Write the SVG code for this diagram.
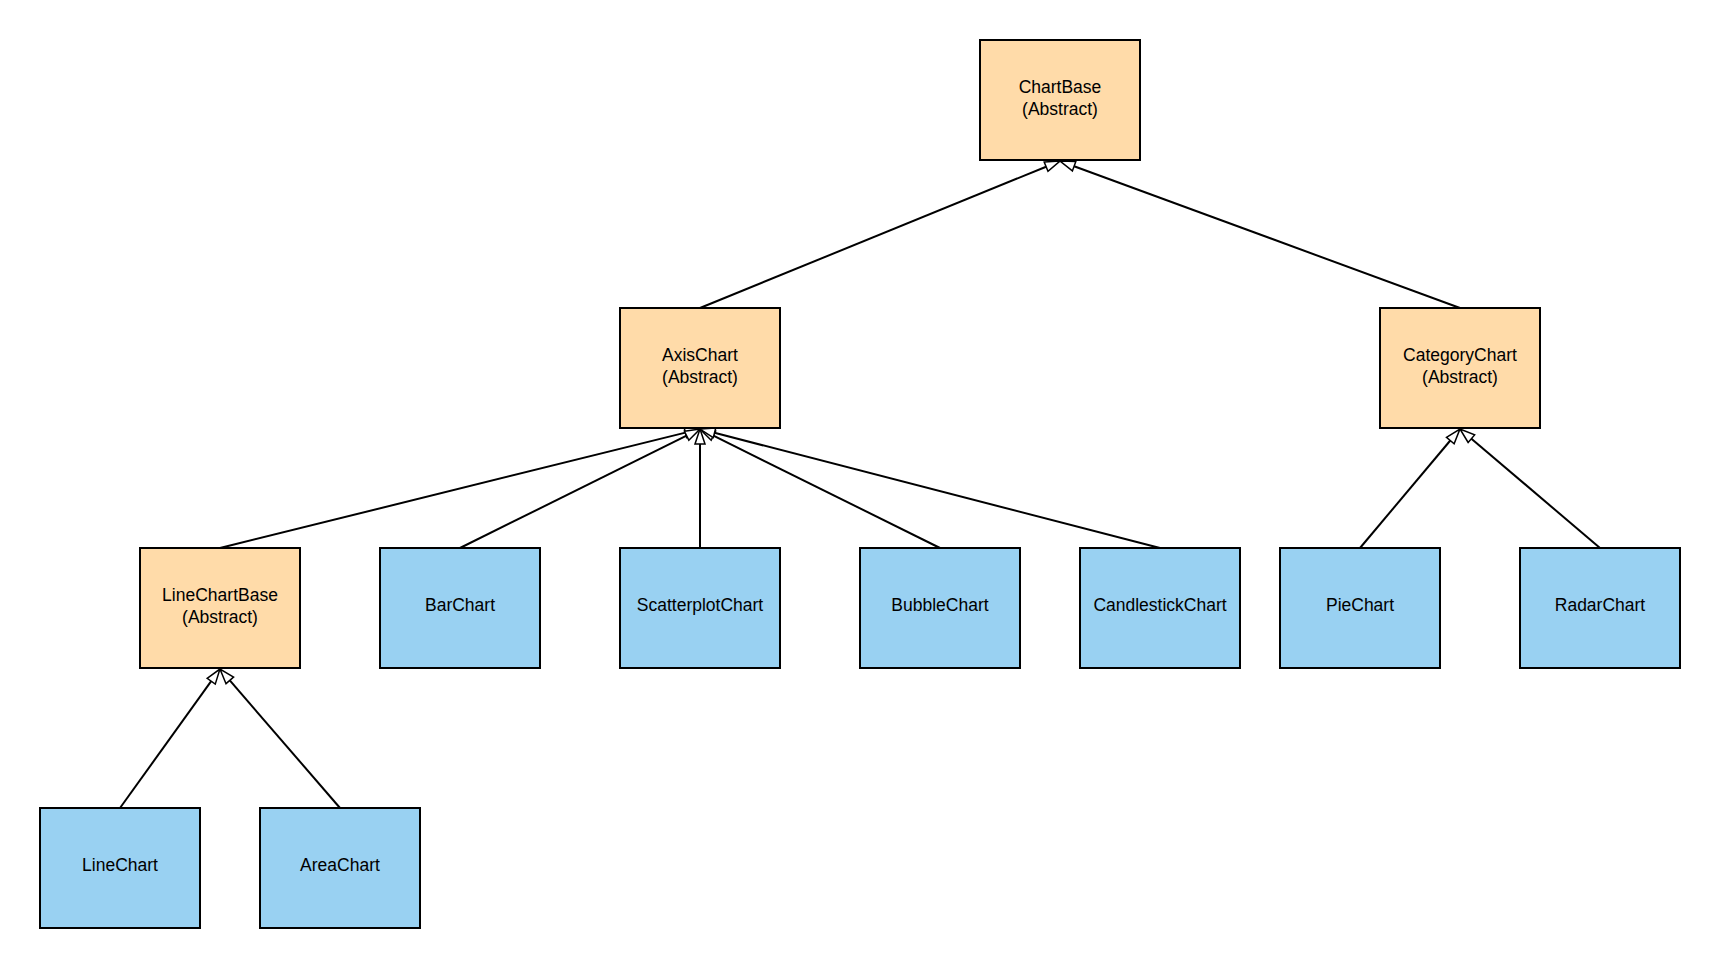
<svg xmlns="http://www.w3.org/2000/svg" width="1720" height="968" viewBox="0 0 1720 968">
<style>
.abs{fill:#ffdba9;stroke:#000;stroke-width:2}
.con{fill:#99d1f2;stroke:#000;stroke-width:2}
text{font-family:"Liberation Sans",Arial,sans-serif;font-size:17.5px;fill:#000;text-anchor:middle}
.edge{stroke:#000;stroke-width:2;fill:none;marker-end:url(#tri)}
</style>
<defs>
<marker id="tri" markerUnits="userSpaceOnUse" viewBox="-2 -7 19 14" markerWidth="19" markerHeight="14" refX="0" refY="0" orient="auto">
<path d="M0,-5 L15,0 L0,5 Z" fill="#fff" stroke="#000" stroke-width="1.5"/>
</marker>
</defs>
<rect width="1720" height="968" fill="#fff"/>
<g id="connectors">
<line class="edge" x1="700" y1="308" x2="1046.1" y2="166.7"/>
<line class="edge" x1="1460" y1="308" x2="1074.1" y2="166.2"/>
<line class="edge" x1="220" y1="548" x2="685.4" y2="432.6"/>
<line class="edge" x1="460" y1="548" x2="686.6" y2="435.7"/>
<line class="edge" x1="700" y1="548" x2="700" y2="444"/>
<line class="edge" x1="940" y1="548" x2="713.4" y2="435.7"/>
<line class="edge" x1="1160" y1="548" x2="714.5" y2="432.8"/>
<line class="edge" x1="1360" y1="548" x2="1450.3" y2="440.5"/>
<line class="edge" x1="1600" y1="548" x2="1471.4" y2="438.7"/>
<line class="edge" x1="120" y1="808" x2="211.2" y2="681.2"/>
<line class="edge" x1="340" y1="808" x2="229.8" y2="680.4"/>
</g>
<g id="ChartBase"><rect class="abs" x="980" y="40" width="160" height="120"/><text x="1060" y="92.5">ChartBase</text><text x="1060" y="114.5">(Abstract)</text></g>
<g id="AxisChart"><rect class="abs" x="620" y="308" width="160" height="120"/><text x="700" y="361">AxisChart</text><text x="700" y="383">(Abstract)</text></g>
<g id="CategoryChart"><rect class="abs" x="1380" y="308" width="160" height="120"/><text x="1460" y="361">CategoryChart</text><text x="1460" y="383">(Abstract)</text></g>
<g id="LineChartBase"><rect class="abs" x="140" y="548" width="160" height="120"/><text x="220" y="601">LineChartBase</text><text x="220" y="623">(Abstract)</text></g>
<g id="BarChart"><rect class="con" x="380" y="548" width="160" height="120"/><text x="460" y="611">BarChart</text></g>
<g id="ScatterplotChart"><rect class="con" x="620" y="548" width="160" height="120"/><text x="700" y="611">ScatterplotChart</text></g>
<g id="BubbleChart"><rect class="con" x="860" y="548" width="160" height="120"/><text x="940" y="611">BubbleChart</text></g>
<g id="CandlestickChart"><rect class="con" x="1080" y="548" width="160" height="120"/><text x="1160" y="611">CandlestickChart</text></g>
<g id="PieChart"><rect class="con" x="1280" y="548" width="160" height="120"/><text x="1360" y="611">PieChart</text></g>
<g id="RadarChart"><rect class="con" x="1520" y="548" width="160" height="120"/><text x="1600" y="611">RadarChart</text></g>
<g id="LineChart"><rect class="con" x="40" y="808" width="160" height="120"/><text x="120" y="871">LineChart</text></g>
<g id="AreaChart"><rect class="con" x="260" y="808" width="160" height="120"/><text x="340" y="871">AreaChart</text></g>
</svg>
